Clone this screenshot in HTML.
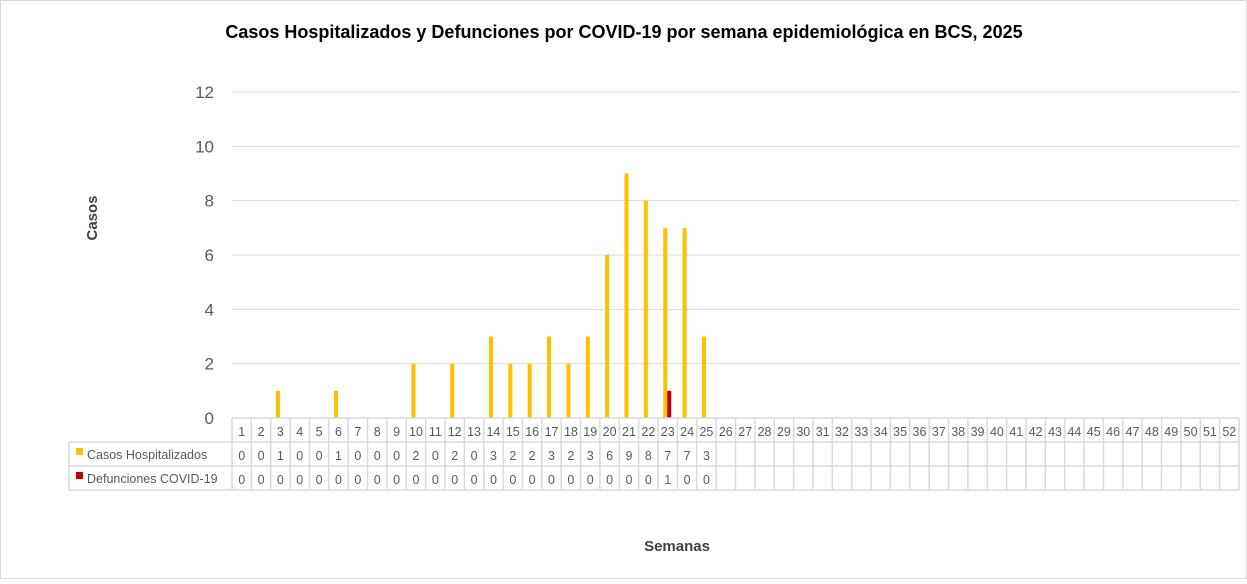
<!DOCTYPE html>
<html><head><meta charset="utf-8"><style>
body{margin:0;background:#fff;}
svg text{font-family:"Liberation Sans",sans-serif;}
</style></head><body>
<svg id="chart" width="1247" height="579" xmlns="http://www.w3.org/2000/svg">
<rect x="0.5" y="0.5" width="1246" height="578" fill="#fff" stroke="#d9d9d9"/>
<text x="624" y="38" text-anchor="middle" font-size="18" font-weight="bold" fill="#000">Casos Hospitalizados y Defunciones por COVID-19 por semana epidemiológica en BCS, 2025</text>
<text transform="translate(97,218) rotate(-90)" text-anchor="middle" font-size="15" font-weight="bold" fill="#404040">Casos</text>
<text x="677" y="551" text-anchor="middle" font-size="15" font-weight="bold" fill="#404040">Semanas</text>
<g id="grid"></g><g id="bars"></g><g id="table"></g>
</svg>
<script>
const weeks = Array.from({length:52},(_,i)=>String(i+1));
const hosp = [0,0,1,0,0,1,0,0,0,2,0,2,0,3,2,2,3,2,3,6,9,8,7,7,3];
const defs = [0,0,0,0,0,0,0,0,0,0,0,0,0,0,0,0,0,0,0,0,0,0,1,0,0];
const yTicks = [0,2,4,6,8,10,12];
const NS='http://www.w3.org/2000/svg';
const L=232,R=1239,Y0=418,Y12=92,cw=(R-L)/52;
const y=v=>Y0-(v/12)*(Y0-Y12);
const xc=i=>L+(i+0.5)*cw;
function mk(t,a,p){const e=document.createElementNS(NS,t);for(const k in a)e.setAttribute(k,a[k]);p.appendChild(e);return e;}
const grid=document.getElementById('grid'),bars=document.getElementById('bars'),tab=document.getElementById('table');
yTicks.forEach(v=>{
 if(v>0){const l=mk('line',{x1:L,x2:R,y1:y(v),y2:y(v),stroke:'#d9d9d9'},grid);
 
 }
 const t=mk('text',{x:214,y:y(v)+6,'text-anchor':'end','font-size':17,fill:'#595959'},grid);
 t.textContent=v;
 
 
});
hosp.forEach((v,i)=>{
 const r=mk('rect',{x:xc(i)-4.5,y:y(v),width:4,height:Y0-y(v),fill:'#ffc000'},bars);
 
 
});
defs.forEach((v,i)=>{
 const r=mk('rect',{x:xc(i)-0.5,y:y(v),width:4,height:Y0-y(v),fill:'#c00000'},bars);
 
 
});
// table
const rows=[418,442,466,490];
const st={stroke:'#d9d9d9','stroke-width':1.5};
mk('line',Object.assign({x1:L,x2:R,y1:418,y2:418},st),tab);
mk('line',Object.assign({x1:69,x2:R,y1:442,y2:442},st),tab);
mk('line',Object.assign({x1:69,x2:R,y1:466,y2:466},st),tab);
mk('line',Object.assign({x1:69,x2:R,y1:490,y2:490},st),tab);
mk('line',Object.assign({x1:69,x2:69,y1:442,y2:490},st),tab);
for(let i=0;i<=52;i++)mk('line',Object.assign({x1:L+i*cw,x2:L+i*cw,y1:418,y2:490},st),tab);
weeks.forEach((w,i)=>{
 const t=mk('text',{x:xc(i),y:436,'text-anchor':'middle','font-size':12.5,fill:'#595959'},tab);
 t.textContent=w;
 
 
});
hosp.forEach((v,i)=>{
 const t=mk('text',{x:xc(i),y:460,'text-anchor':'middle','font-size':12.5,fill:'#595959'},tab);
 t.textContent=v;
 
 
});
defs.forEach((v,i)=>{
 const t=mk('text',{x:xc(i),y:484,'text-anchor':'middle','font-size':12.5,fill:'#595959'},tab);
 t.textContent=v;
 
 
});
const lg=[['Casos Hospitalizados','#ffc000',454],['Defunciones COVID-19','#c00000',478]];
lg.forEach(([n,c,yy])=>{
 const s=mk('rect',{x:76,y:yy-6,width:7,height:7,fill:c},tab);
 
 
 const t=mk('text',{x:87,y:yy+5,'font-size':12.5,fill:'#595959'},tab);
 t.textContent=n;
 
 
});
</script>
</body></html>
